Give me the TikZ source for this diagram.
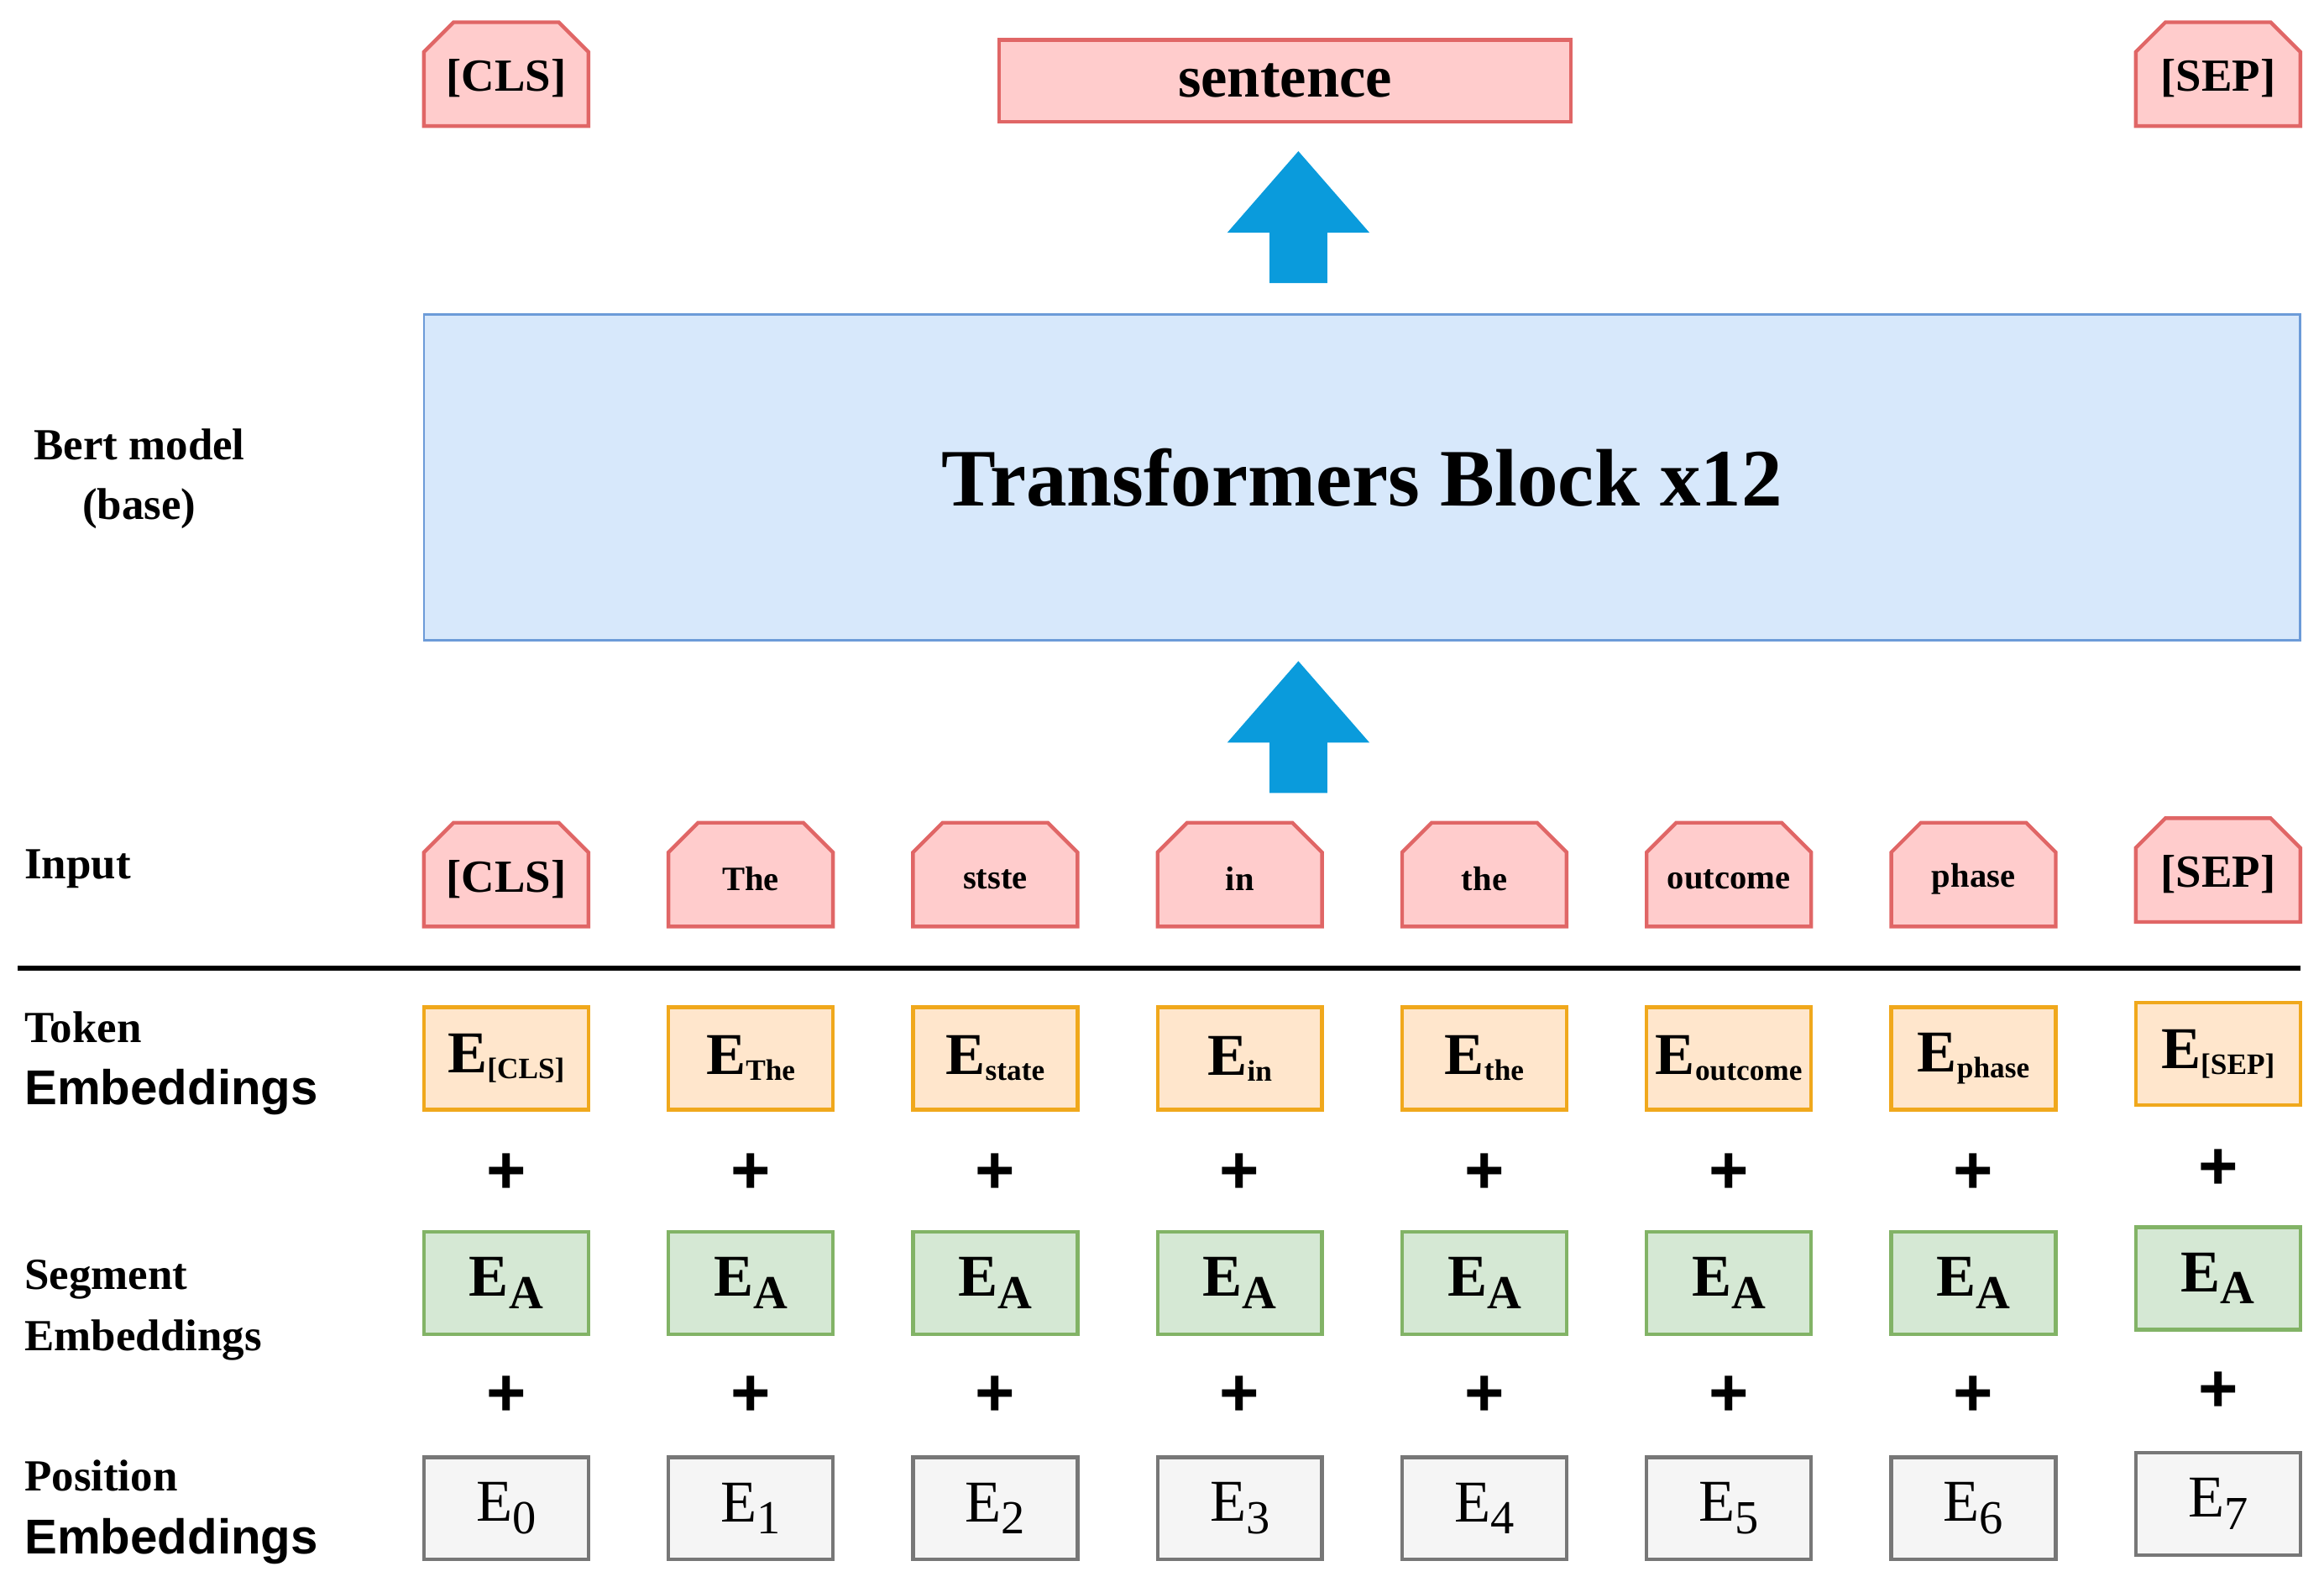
\documentclass[tikz,border=0pt]{standalone}
\usepackage{fontspec}
\setmainfont{Liberation Serif}
\newfontfamily\sansb{Liberation Sans}
\definecolor{pinkf}{HTML}{FFCCCC}
\definecolor{pinkd}{HTML}{E06666}
\definecolor{bluef}{HTML}{D7E8FB}
\definecolor{blued}{HTML}{6C9BD8}
\definecolor{arrowc}{HTML}{0A9BDC}
\definecolor{orf}{HTML}{FFE6CC}
\definecolor{ord}{HTML}{F0A81C}
\definecolor{grf}{HTML}{D5E8D4}
\definecolor{grd}{HTML}{82B366}
\definecolor{gyf}{HTML}{F5F5F5}
\definecolor{gyd}{HTML}{777777}
\newcommand\fs[1]{\fontsize{#1}{#1}\selectfont}
\newcommand\pentag[5]{%
  \draw[pent] (#2,#3+70) -- (#2,#3+20) -- (#2+20,#3) -- (#2+91,#3) -- (#2+111,#3+20) -- (#2+111,#3+70) -- cycle;
  \node[font=\bfseries\fs{#5}] (#1) at (#2+55.5,#3+38) {#4};}
\newcommand\bigarrow[3]{% name, center x, tip y
  \fill[arrowc] (#2,#3) -- (#2+48,#3+55) -- (#2+19.5,#3+55) -- (#2+19.5,#3+89) -- (#2-19.5,#3+89) -- (#2-19.5,#3+55) -- (#2-48,#3+55) -- cycle;
  \coordinate (#1) at (#2,#3);}
\begin{document}
\begin{tikzpicture}[x=1pt,y=-1pt,
  pent/.style={fill=pinkf,draw=pinkd,line width=2.5pt},
  box/.style={minimum width=111pt,minimum height=69pt,line width=2.5pt,inner sep=0pt},
  tokb/.style={box,fill=orf,draw=ord},
  segb/.style={box,fill=grf,draw=grd},
  posb/.style={box,fill=gyf,draw=gyd},
  lab/.style={anchor=base west,font=\bfseries\fs{30}},
  slab/.style={anchor=base west,font=\sansb\bfseries\fs{33}},
  plus/.style={font=\sansb\bfseries\fs{46}}]
\useasboundingbox (0,0) rectangle (1568,1067);

% top outputs
\pentag{ocls}{286}{15}{[CLS]}{31}
\pentag{osep}{1441}{15}{[SEP]}{31}
\node[fill=pinkf,draw=pinkd,line width=2.5pt,minimum width=386pt,minimum height=55pt,font=\bfseries\fs{40}] (sent) at (867,54.5) {sentence};

\bigarrow{a1}{876}{102}
\node[fill=bluef,draw=blued,line width=1.5pt,minimum width=1266pt,minimum height=220pt,font=\bfseries\fs{55}] (tb) at (919,322) {Transformers Block x12};
\bigarrow{a2}{876}{446}

\node[font=\bfseries\fs{30},align=center] (bert) at (94,323) {Bert model\\[10pt](base)};

% labels
\node[lab] (linput) at (13,593) {Input};
\node[lab] (ltok1) at (13,703) {Token};
\node[slab] (ltok2) at (13,745) {Embeddings};
\node[lab] (lseg1) at (13,870) {Segment};
\node[lab] (lseg2) at (13,911) {Embeddings};
\node[lab] (lpos1) at (13,1006) {Position};
\node[slab] (lpos2) at (13,1048) {Embeddings};

\draw[line width=3.5pt] (12,653) coordinate (l0) -- (1552,653) coordinate (l1);

% input tokens
\pentag{i0}{286}{555}{[CLS]}{31}
\pentag{i1}{451}{555}{The}{23}
\pentag{i2}{616}{555}{stste}{23}
\pentag{i3}{781}{555}{in}{23}
\pentag{i4}{946}{555}{the}{23}
\pentag{i5}{1111}{555}{outcome}{23}
\pentag{i6}{1276}{555}{phase}{23}
\pentag{i7}{1441}{552}{[SEP]}{31}

\foreach \i/\sub in {0/{[CLS]},1/The,2/state,3/in,4/the,5/outcome,6/phase,7/{[SEP]}}{
  \pgfmathsetmacro\cx{341.5+165*\i}
  \pgfmathsetmacro\dy{\i==7 ? -3 : 0}
  \node[tokb,font=\bfseries] (t\i) at (\cx,714+\dy) {{\fs{40}E}{\fs{20}\raisebox{-4pt}{\sub}}};
  \node[plus] (p\i) at (\cx,792+\dy) {+};
  \node[segb,font=\bfseries] (s\i) at (\cx,865.5+\dy) {{\fs{40}E}{\fs{32}\raisebox{-8pt}{A}}};
  \node[plus] (q\i) at (\cx,942+\dy) {+};
  \node[posb] (e\i) at (\cx,1017.5+\dy) {{\fs{40}E}{\fs{32}\raisebox{-8pt}{\i}}};
}
\end{tikzpicture}
\end{document}
